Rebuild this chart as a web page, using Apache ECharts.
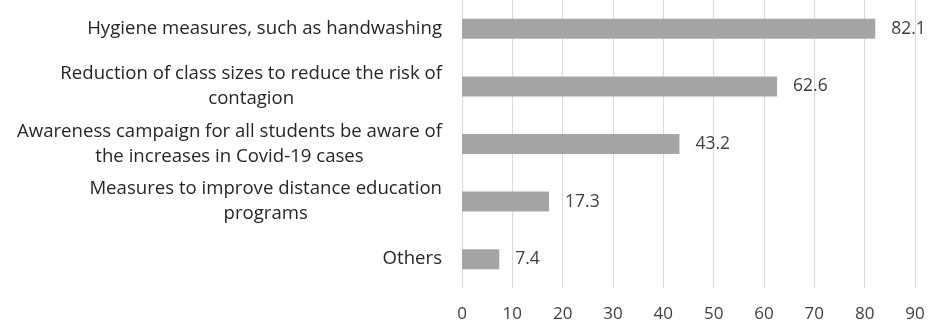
<!DOCTYPE html>
<html>
<head>
<meta charset="utf-8">
<style>
  html, body { margin: 0; padding: 0; background: #ffffff; }
  #chart { width: 930px; height: 326px; }
</style>
<script src="https://cdn.jsdelivr.net/npm/echarts@6/dist/echarts.min.js"></script>
</head>
<body>
<div id="chart"></div>
<script>
// Measures listed top to bottom
const categories = [
  'Hygiene measures, such as handwashing',
  'Reduction of class sizes to reduce the risk of\ncontagion',
  'Awareness campaign for all students be aware of\nthe increases in Covid-19 cases',
  'Measures to improve distance education\nprograms',
  'Others'
];
const shares = [82.1, 62.6, 43.2, 17.3, 7.4];
const axisTicks = [0, 10, 20, 30, 40, 50, 60, 70, 80, 90];

const FONT = '"Open Sans", sans-serif';

const chart = echarts.init(document.getElementById('chart'), null, { renderer: 'canvas' });

chart.setOption({
  animation: false,
  grid: { left: 462, right: 15, top: -2, bottom: 38, containLabel: false },
  xAxis: {
    type: 'value',
    min: axisTicks[0],
    max: axisTicks[axisTicks.length - 1],
    interval: axisTicks[1] - axisTicks[0],
    axisLine: { show: false },
    axisTick: { show: false },
    splitLine: { show: true, lineStyle: { color: '#d9d9d9', width: 1 } },
    axisLabel: {
      color: '#404040',
      fontFamily: FONT,
      fontSize: 17,
      margin: 18
    }
  },
  yAxis: {
    type: 'category',
    inverse: true,
    data: categories,
    axisLine: { show: false },
    axisTick: { show: false },
    axisLabel: {
      margin: 20,
      align: 'right',
      // each line is centred inside the right-aligned label block
      formatter: v => '{c|' + v + '}',
      rich: {
        c: {
          align: 'center',
          color: '#262626',
          fontFamily: FONT,
          fontSize: 18.6,
          lineHeight: 25
        }
      }
    }
  },
  series: [{
    type: 'bar',
    data: shares,
    barWidth: 20,
    itemStyle: { color: '#a5a5a5' },
    label: {
      show: true,
      position: 'right',
      distance: 16,
      color: '#404040',
      fontFamily: FONT,
      fontSize: 17.5,
      formatter: p => p.value.toFixed(1)
    }
  }]
});
</script>
</body>
</html>
